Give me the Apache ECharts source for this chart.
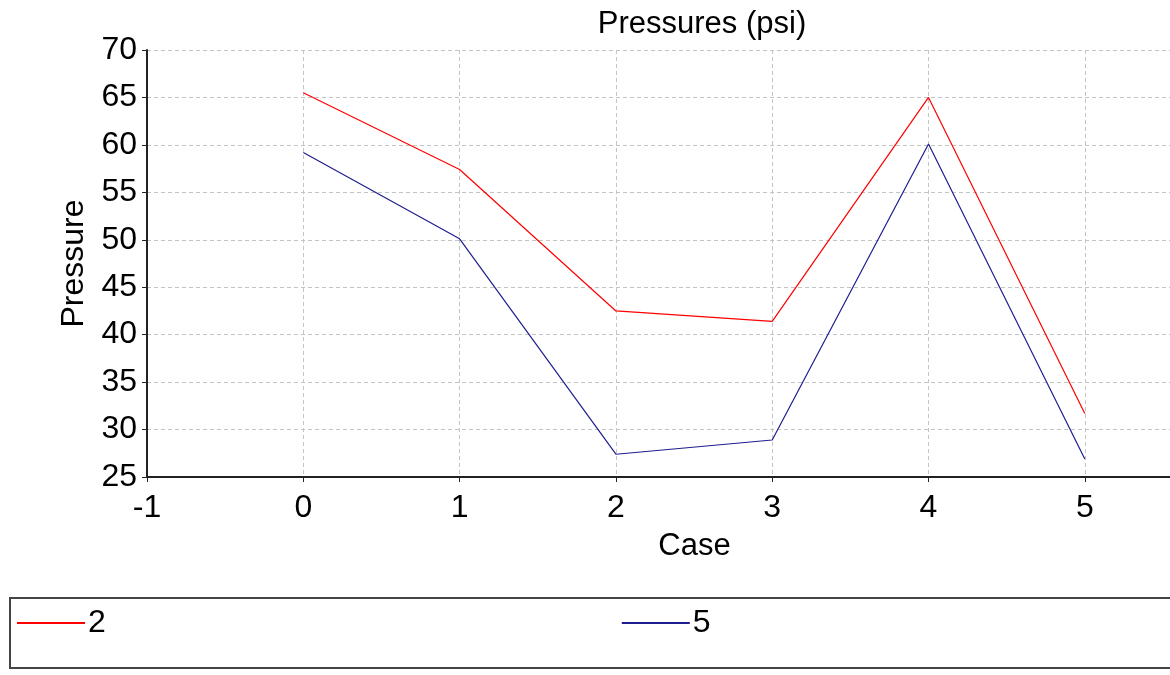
<!DOCTYPE html>
<html lang="en">
<head>
    <meta charset="UTF-8">
    <title>Pressures (psi)</title>
    <script src="https://cdn.jsdelivr.net/npm/echarts@6/dist/echarts.min.js"></script>
    <style>
        *{
            padding:0;
            margin:0;
        }
        html,body{
            height:100%;
            background:#fff;
        }
        #main{
            width:1170px;
            height:675px;
        }
    </style>
</head>
<body>
<div id="main"></div>
<script>
    // cases along x, one pressure array per series
    var cases = [0, 1, 2, 3, 4, 5];
    var seriesNames = ['2', '5'];
    var pressure2 = [65.5, 57.4, 42.5, 41.4, 65.0, 31.7];
    var pressure5 = [59.2, 50.1, 27.4, 28.9, 60.1, 26.9];

    function pairs(vals){
        var out = [];
        for (var i = 0; i < cases.length; i++) {
            out.push([cases[i], vals[i]]);
        }
        return out;
    }

    var myChart = echarts.init(document.getElementById('main'));
    var font = 'Liberation Sans, Arial, sans-serif';
    var gridLine = {
        show:true,
        lineStyle:{
            color:'#c4c4c4',
            type:[4,3],
            width:1
        }
    };

    var option = {
        animation:false,
        title:{
            text:'Pressures (psi)',
            left:697,
            top:4,
            textAlign:'center',
            textStyle:{
                color:'#000',
                fontFamily:font,
                fontWeight:'normal',
                fontSize:31
            }
        },
        legend:{
            data:seriesNames,
            left:17,
            top:607,
            padding:0,
            itemGap:516,
            itemWidth:68,
            itemHeight:2,
            icon:'rect',
            textStyle:{
                color:'#000',
                fontFamily:font,
                fontSize:32,
                padding:[0,0,0,-2]
            }
        },
        graphic:[{
            type:'rect',
            shape:{x:10, y:598, width:1200, height:70},
            style:{fill:'none', stroke:'#444', lineWidth:2},
            silent:true
        }],
        grid:{
            left:147,
            right:0,
            top:50,
            bottom:198
        },
        xAxis:{
            type:'value',
            min:-1,
            max:5.545,
            interval:1,
            name:'Case',
            nameLocation:'middle',
            nameGap:54,
            nameTextStyle:{
                color:'#000',
                fontFamily:font,
                fontSize:31,
                padding:[0,0,0,72]
            },
            axisLine:{
                onZero:false,
                lineStyle:{color:'#222', width:2}
            },
            axisTick:{
                length:5,
                lineStyle:{color:'#222'}
            },
            axisLabel:{
                color:'#000',
                fontFamily:font,
                fontSize:32,
                margin:15,
                showMaxLabel:false,
                formatter:function(v){
                    return Math.round(v) === v ? String(v) : '';
                }
            },
            splitLine:gridLine
        },
        yAxis:{
            type:'value',
            min:25,
            max:70,
            interval:5,
            name:'Pressure',
            nameLocation:'middle',
            nameGap:53,
            nameTextStyle:{
                color:'#000',
                fontFamily:font,
                fontSize:32
            },
            axisLine:{
                show:true,
                onZero:false,
                lineStyle:{color:'#222', width:2}
            },
            axisTick:{
                show:true,
                length:5,
                lineStyle:{color:'#222'}
            },
            axisLabel:{
                color:'#000',
                fontFamily:font,
                fontSize:32,
                margin:10
            },
            splitLine:gridLine
        },
        series:[
            {
                name:seriesNames[0],
                type:'line',
                data:pairs(pressure2),
                showSymbol:false,
                color:'#ff0000',
                lineStyle:{width:1.2, color:'#ff0000'}
            },
            {
                name:seriesNames[1],
                type:'line',
                data:pairs(pressure5),
                showSymbol:false,
                color:'#1e1e8e',
                lineStyle:{width:1.2, color:'#1e1e8e'}
            }
        ]
    };
    myChart.setOption(option);
</script>
</body>
</html>
